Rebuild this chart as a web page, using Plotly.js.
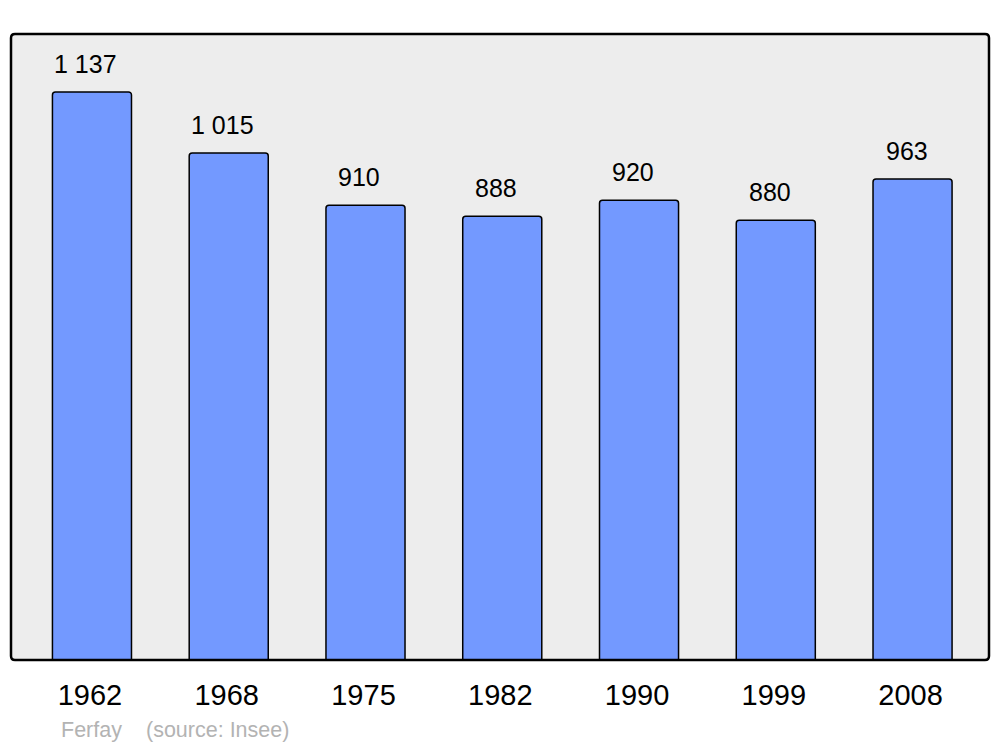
<!DOCTYPE html>
<html>
<head>
<meta charset="utf-8">
<script src="https://cdn.plot.ly/plotly-3.0.1.min.js"></script>
<style>html,body{margin:0;padding:0;background:#fff;}#chart{width:1000px;height:747px;}</style>
</head>
<body>
<div id="chart"></div>
<script>
const years = ["1962", "1968", "1975", "1982", "1990", "1999", "2008"];
const population = [1137, 1015, 910, 888, 920, 880, 963];
const author = "Ferfay";
const source = "(source: Insee)";

function fmt(v) {
  return String(v).replace(/\B(?=(\d{3})+(?!\d))/g, " ");
}

const font = "Liberation Sans, Arial, sans-serif";

const trace = {
  type: "bar",
  x: years,
  y: population,
  width: 0.578,
  marker: {
    color: "#7399ff",
    line: { color: "#000", width: 1.5 },
    cornerradius: 3
  },
  hoverinfo: "none"
};

const annotations = years.map((yr, i) => ({
  x: i, y: population[i], xref: "x", yref: "y",
  text: fmt(population[i]), showarrow: false,
  yanchor: "middle", yshift: 28, xshift: -6,
  font: { family: font, size: 25, color: "#000" }
}));
annotations.push({
  xref: "paper", yref: "paper", x: 0.049, y: -0.1118,
  xanchor: "left", yanchor: "middle", showarrow: false,
  text: author, font: { family: font, size: 21.5, color: "#b3b3b3" }
});
annotations.push({
  xref: "paper", yref: "paper", x: 0.136, y: -0.1118,
  xanchor: "left", yanchor: "middle", showarrow: false,
  text: source, font: { family: font, size: 21.5, color: "#b3b3b3" }
});

const rx = 4 / 978, ry = 4 / 626;
const framePath = `M ${rx},0 L ${1 - rx},0 Q 1,0 1,${ry} L 1,${1 - ry} Q 1,1 ${1 - rx},1 L ${rx},1 Q 0,1 0,${1 - ry} L 0,${ry} Q 0,0 ${rx},0 Z`;

const layout = {
  width: 1000, height: 747,
  margin: { l: 11, r: 11, t: 34, b: 87 },
  paper_bgcolor: "#ffffff",
  plot_bgcolor: "rgba(0,0,0,0)",
  showlegend: false,
  xaxis: {
    type: "category",
    range: [-0.592, 6.559],
    showgrid: false, zeroline: false, showline: false,
    ticks: "",
    ticklabelstandoff: 15,
    ticklabelshift: -2,
    tickfont: { family: font, size: 29, color: "#000" },
    fixedrange: true
  },
  yaxis: {
    range: [0, 1253],
    showgrid: false, zeroline: false, showline: false,
    showticklabels: false, ticks: "",
    fixedrange: true
  },
  shapes: [
    {
      type: "path", xref: "paper", yref: "paper", path: framePath,
      fillcolor: "#ededed", line: { width: 0 }, layer: "below"
    },
    {
      type: "path", xref: "paper", yref: "paper", path: framePath,
      fillcolor: "rgba(0,0,0,0)", line: { color: "#000", width: 2.5 }, layer: "above"
    }
  ],
  annotations: annotations
};

Plotly.newPlot("chart", [trace], layout, { displayModeBar: false, staticPlot: true });
</script>
</body>
</html>
